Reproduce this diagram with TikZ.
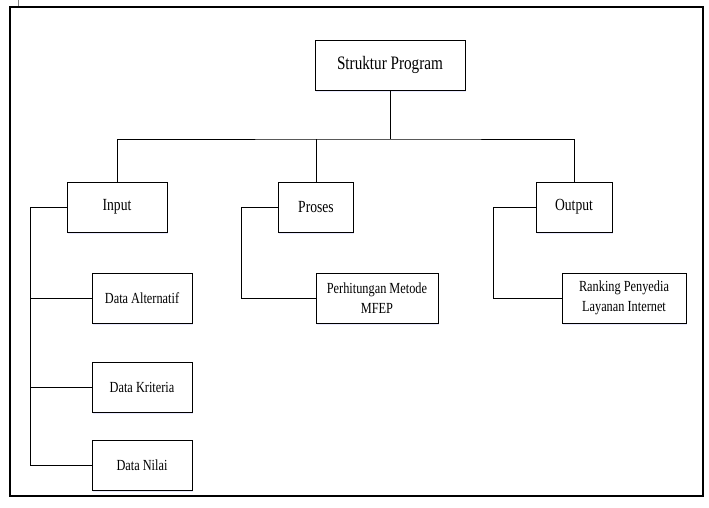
\documentclass[tikz,border=0pt]{standalone}
\usepackage{fontspec}
\setmainfont{Liberation Serif}[FakeStretch=0.8]
\usepackage{tikz}
\usetikzlibrary{positioning,shadows}

\begin{document}
\begin{tikzpicture} [x=1pt,y=-1pt,line width=0.9pt,
  box/.style={draw,fill=white,inner sep=0pt,align=center,
    drop shadow={shadow xshift=0.6pt,shadow yshift=-2pt,fill=blue!25!white,opacity=0.35}},
  top/.style={box,minimum height=50pt,font=\fontsize{19}{23}\selectfont},
  mid/.style={box,minimum height=50pt,font=\fontsize{17}{21}\selectfont},
  low/.style={box,minimum height=50pt,font=\fontsize{15.4}{20}\selectfont}]

  \useasboundingbox (0,0) rectangle (709,507);
  \draw[line width=2pt] (10,7) rectangle (703,496);
  \draw[gray,line width=1pt] (18,0) -- (18,6);

  \node[top, minimum width=150pt] (prog) at (390,65) {Struktur Program};

  \node[mid, minimum width=100pt] (in)   at (117,207) {Input};
  \node[mid, minimum width=75pt]  (proc) at (316,207) {Proses};
  \node[mid, minimum width=76pt]  (out)  at (574,207) {Output};

  \node[low, minimum width=100pt] (alt)   at (142,298) {Data Alternatif};
  \node[low, minimum width=100pt] (krit)  at (142,387) {Data Kriteria};
  \node[low, minimum width=100pt] (nilai) at (142,465) {Data Nilai};
  \node[low, minimum width=122pt] (mfep)  at (377,298) {Perhitungan Metode\\MFEP};
  \node[low, minimum width=124pt] (rank)  at (624,298) {Ranking Penyedia\\Layanan Internet};

  \coordinate (bus) at (390,139);
  \coordinate (a) at (30,207);
  \coordinate (b) at (241,207);
  \coordinate (c) at (493,207);

  \draw (prog) -- (bus);
  \draw (in) |- (bus) -| (out);
  \draw (proc) -- (proc |- bus);

  \draw (in) -- (a) |- (nilai);
  \draw (a |- alt) -- (alt);
  \draw (a |- krit) -- (krit);

  \draw (proc) -- (b) |- (mfep);
  \draw (out) -- (c) |- (rank);

\end{tikzpicture}
\end{document}
